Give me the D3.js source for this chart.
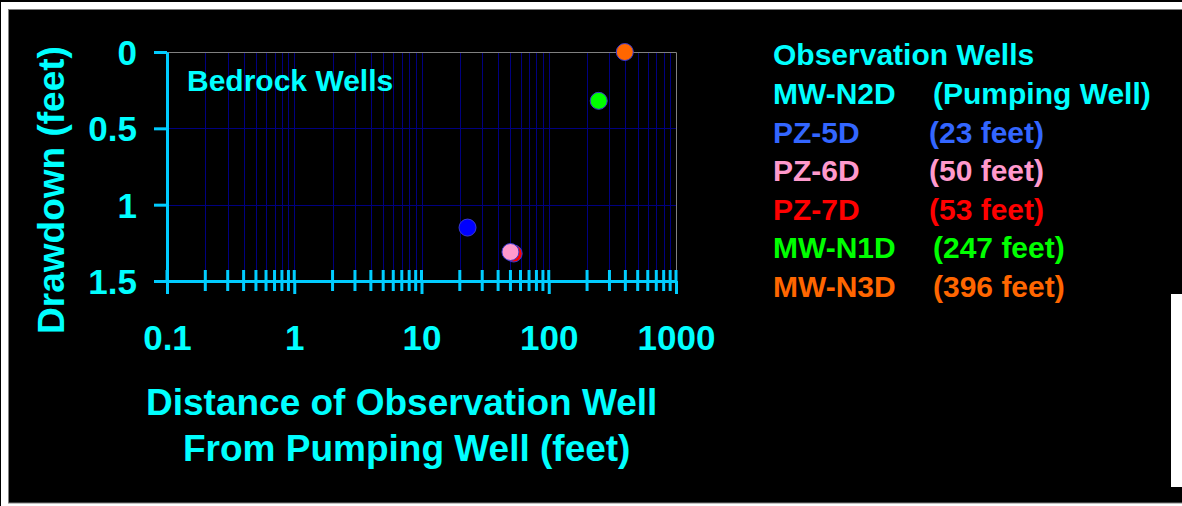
<!DOCTYPE html>
<html>
<head>
<meta charset="utf-8">
<script src="https://cdn.jsdelivr.net/npm/d3@7"></script>
<style>
  body { margin: 0; background: #fff; }
  svg text { font-family: "Liberation Sans", Arial, sans-serif; font-weight: bold; }
</style>
</head>
<body>
<svg id="drawdown-chart" width="1182" height="506"></svg>
<script>
// observation wells plotted on the chart
const wellNames = ['PZ-5D', 'PZ-6D', 'PZ-7D', 'MW-N1D', 'MW-N3D'];
const wellDistances = [23, 50, 53, 247, 396];
const wellDrawdowns = [1.15, 1.31, 1.32, 0.32, 0.0];
const markerColors = ['#0000ff', '#ff99cc', '#ff0000', '#00ff00', '#ff6600'];

// legend
const legendTitle = 'Observation Wells';
const legendNames = ['MW-N2D', 'PZ-5D', 'PZ-6D', 'PZ-7D', 'MW-N1D', 'MW-N3D'];
const legendNotes = ['(Pumping Well)', '(23 feet)', '(50 feet)', '(53 feet)', '(247 feet)', '(396 feet)'];
const legendColors = ['#00ffff', '#3366ff', '#ff99cc', '#ff0000', '#00ff00', '#ff6600'];

// axes
const xTickValues = [0.1, 1, 10, 100, 1000];
const xTickLabels = ['0.1', '1', '10', '100', '1000'];
const yTickValues = [0, 0.5, 1, 1.5];
const yTickLabels = ['0', '0.5', '1', '1.5'];

const CYAN = '#00ffff';
const AXIS = '#00ccff';
const GRID = '#000080';

const svg = d3.select('svg#drawdown-chart');

// page frame
svg.append('rect').attr('x', 0).attr('y', 0).attr('width', 1182).attr('height', 2).attr('fill', '#000');
svg.append('rect').attr('x', 0).attr('y', 0).attr('width', 1).attr('height', 506).attr('fill', '#000');
svg.append('rect')
  .attr('x', 8.5).attr('y', 9.5).attr('width', 1180).attr('height', 493.5)
  .attr('fill', '#000').attr('stroke', '#808080').attr('stroke-width', 1);
svg.append('rect').attr('x', 1171).attr('y', 294).attr('width', 11).attr('height', 193).attr('fill', '#fff');

const x = d3.scaleLog().domain([0.1, 1000]).range([167, 676]);
const y = d3.scaleLinear().domain([0, 1.5]).range([52, 281]);

const allXTicks = x.ticks();
const isMajor = (d) => xTickValues.some((v) => Math.abs(v - d) < 1e-9);

// grid
const grid = svg.append('g').attr('class', 'grid');
grid.selectAll('.vgrid')
  .data(allXTicks.filter((d) => d > 0.1 && d < 1000))
  .enter().append('line')
  .attr('class', 'vgrid')
  .attr('x1', (d) => Math.round(x(d)) + 0.5).attr('x2', (d) => Math.round(x(d)) + 0.5)
  .attr('y1', y(0)).attr('y2', y(1.5))
  .attr('stroke', GRID).attr('stroke-width', 1);
grid.selectAll('.hgrid')
  .data([0.5, 1])
  .enter().append('line')
  .attr('class', 'hgrid')
  .attr('x1', x(0.1)).attr('x2', x(1000))
  .attr('y1', (d) => Math.round(y(d)) + 0.5).attr('y2', (d) => Math.round(y(d)) + 0.5)
  .attr('stroke', GRID).attr('stroke-width', 1);

// plot border (top / right)
svg.append('path')
  .attr('d', `M${x(0.1)},${y(0) + 0.5}H${x(1000) + 0.5}V${y(1.5)}`)
  .attr('fill', 'none').attr('stroke', '#808080').attr('stroke-width', 1);

// y axis
const yAxis = d3.axisLeft(y)
  .tickValues(yTickValues)
  .tickFormat((d, i) => yTickLabels[i])
  .tickSize(13).tickSizeOuter(0).tickPadding(17);
const gy = svg.append('g').attr('transform', `translate(${x(0.1)},0)`).call(yAxis);
gy.selectAll('path, line').attr('stroke', AXIS).attr('stroke-width', 3);
gy.selectAll('text').attr('fill', CYAN).attr('font-size', 35).attr('font-family', null).attr('dy', '0.36em');
gy.attr('font-family', null);

// x axis
const xAxis = d3.axisBottom(x)
  .tickValues(xTickValues)
  .tickFormat((d, i) => xTickLabels[i])
  .tickSize(13).tickSizeOuter(0).tickPadding(31);
const gx = svg.append('g').attr('transform', `translate(0,${y(1.5)})`).call(xAxis);
gx.selectAll('path, line').attr('stroke', AXIS).attr('stroke-width', 3);
gx.selectAll('text').attr('fill', CYAN).attr('font-size', 35);
gx.attr('font-family', null);

// tick marks crossing the x axis
svg.append('g').selectAll('line')
  .data(allXTicks)
  .enter().append('line')
  .attr('x1', (d) => x(d)).attr('x2', (d) => x(d))
  .attr('y1', y(1.5) - 11)
  .attr('y2', (d) => isMajor(d) ? y(1.5) : y(1.5) + 10)
  .attr('stroke', AXIS).attr('stroke-width', 3);

// markers
const order = d3.range(wellNames.length).reverse();
svg.append('g').selectAll('circle')
  .data(order)
  .enter().append('circle')
  .attr('cx', (i) => x(wellDistances[i]))
  .attr('cy', (i) => y(wellDrawdowns[i]))
  .attr('r', 8.5)
  .attr('fill', (i) => markerColors[i])
  .attr('stroke', '#3a3ad0').attr('stroke-width', 1);

// labels
svg.append('text').attr('x', 187).attr('y', 91)
  .attr('fill', CYAN).attr('font-size', 30).text('Bedrock Wells');

svg.append('text').attr('x', 146).attr('y', 415)
  .attr('fill', CYAN).attr('font-size', 37).text('Distance of Observation Well');
svg.append('text').attr('x', 183).attr('y', 461)
  .attr('fill', CYAN).attr('font-size', 37).text('From Pumping Well (feet)');

svg.append('text')
  .attr('transform', 'translate(64,190) rotate(-90)')
  .attr('text-anchor', 'middle')
  .attr('fill', CYAN).attr('font-size', 37).text('Drawdown (feet)');

// legend
const legend = svg.append('g').attr('font-size', 30);
legend.append('text').attr('x', 773).attr('y', 65).attr('fill', CYAN).text(legendTitle);
legendNames.forEach((name, i) => {
  const by = 104 + i * 38.6;
  legend.append('text').attr('x', 773).attr('y', by).attr('fill', legendColors[i]).text(name);
  legend.append('text').attr('x', name.startsWith('PZ') ? 929 : 933).attr('y', by)
    .attr('fill', legendColors[i]).text(legendNotes[i]);
});
</script>
</body>
</html>
